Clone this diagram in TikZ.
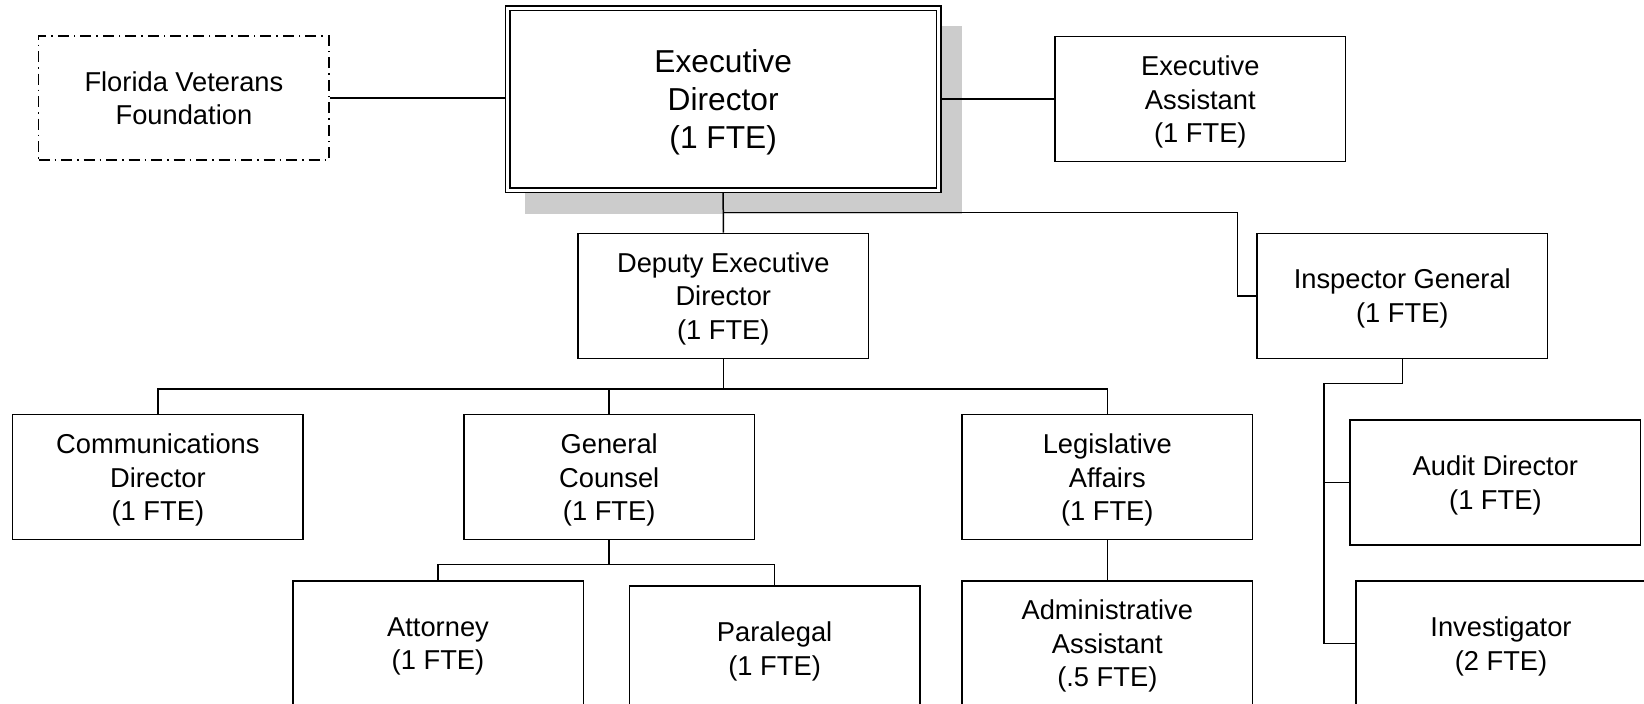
\documentclass[tikz,border=0pt]{standalone}
\usepackage{fontspec}
\setmainfont{Liberation Sans}
\usetikzlibrary{backgrounds}
\definecolor{shadowgray}{HTML}{CCCCCC}
\begin{document}
\begin{tikzpicture}[x=1pt,y=-1pt,
  every node/.style={font=\fontsize{27.3}{33.5}\selectfont, align=center, inner sep=0pt, text depth=0pt},
  orgbox/.style={draw, line width=1.5pt, fill=white, minimum width=290.5pt, minimum height=125pt},
  dashdot/.style={dash pattern=on 11pt off 5pt on 1.5pt off 5pt},
  headbox/.style={draw, fill=white, line width=1.5pt, double, double distance=2.8pt,
    minimum width=431.2pt, minimum height=182.2pt, outer sep=2.9pt,
    font=\fontsize{31.7}{38.3}\selectfont},
  link/.style={line width=1.5pt}]
\useasboundingbox (0,0) rectangle (1644,704);
\clip (0,0) rectangle (1644,704);

% top row
\node[orgbox, dashdot, minimum height=124pt] (fvf) at (183.9,98.2) {Florida Veterans\\Foundation};
\node[headbox] (ed) at (723.2,99.2) {Executive\\Director\\(1 FTE)};
\node[orgbox] (ea) at (1200.3,99.2) {Executive\\Assistant\\(1 FTE)};

% drop shadow behind the head box
\begin{scope}[on background layer]
  \fill[shadowgray] ([shift={(20.5,20.5)}]ed.north west) rectangle ([shift={(20.5,20.5)}]ed.south east);
\end{scope}

% second row
\node[orgbox] (ded) at (723.3,295.8) {Deputy Executive\\Director\\(1 FTE)};
\node[orgbox] (ig) at (1402.3,295.8) {Inspector General\\(1 FTE)};

% third row
\node[orgbox] (cd) at (157.9,477.2) {Communications\\Director\\(1 FTE)};
\node[orgbox] (gc) at (609.2,477.2) {General\\Counsel\\(1 FTE)};
\node[orgbox] (la) at (1107.3,477.2) {Legislative\\Affairs\\(1 FTE)};
\node[orgbox] (audit) at (1495.4,482.5) {Audit Director\\(1 FTE)};

% bottom row
\node[orgbox] (att) at (438,643.5) {Attorney\\(1 FTE)};
\node[orgbox] (para) at (774.6,648.5) {Paralegal\\(1 FTE)};
\node[orgbox] (aa) at (1107.3,643.5) {Administrative\\Assistant\\(.5 FTE)};
\node[orgbox] (inv) at (1501,643.5) {Investigator\\(2 FTE)};

% junction coordinates
\coordinate (edbus) at (723.2,212.3);
\coordinate (igjog) at (1237.3,295.8);
\coordinate (dedbus) at (723.3,389);
\coordinate (gcbus) at (609.2,564.3);
\coordinate (igbus) at (1324,383.5);

% connectors
\draw[link] (fvf.east) -- (fvf.east -| ed.west);
\draw[link] (ed.east) -- (ed.east -| ea.west);
\draw[link] (ed.south) -- (ded.north);
\draw[link] (edbus) -- (igjog |- edbus) -- (igjog) -- (ig.west);
\draw[link] (ded.south) -- (dedbus);
\draw[link] (cd.north) |- (la.north |- dedbus) -- (la.north);
\draw[link] (gc.north) -- (gc.north |- dedbus);
\draw[link] (gc.south) -- (gcbus);
\draw[link] (att.north) |- (para.north |- gcbus) -- (para.north);
\draw[link] (la.south) -- (aa.north);
\draw[link] (ig.south) |- (igbus) |- (inv.west);
\draw[link] (igbus |- audit.west) -- (audit.west);
\end{tikzpicture}
\end{document}
